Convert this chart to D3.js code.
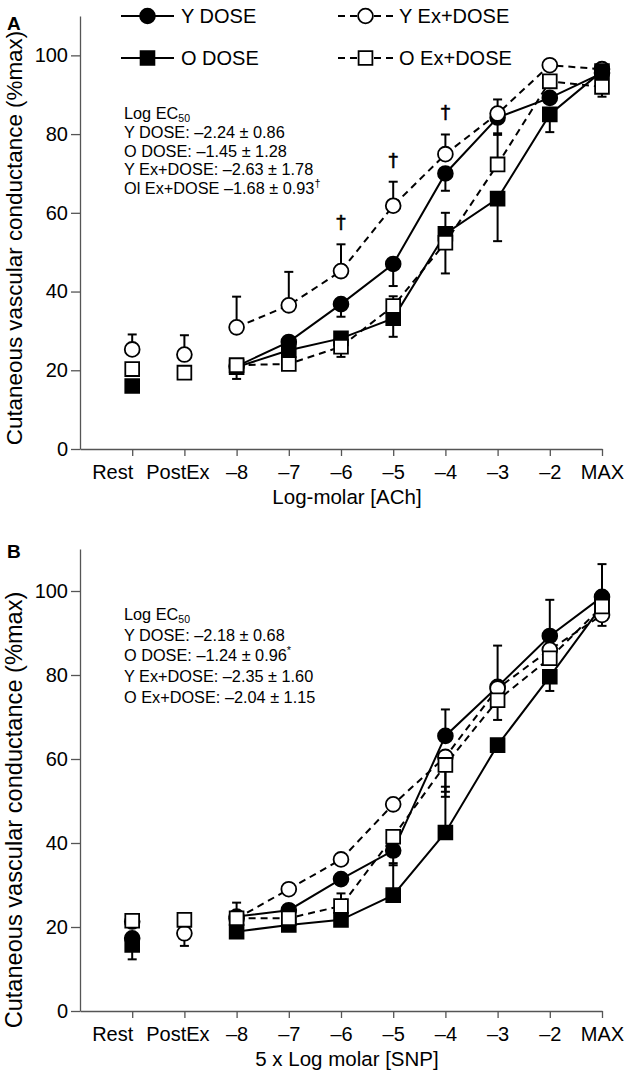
<!DOCTYPE html>
<html>
<head>
<meta charset="utf-8">
<title>Cutaneous vascular conductance – ACh and SNP</title>
<style>
body { margin: 0; background: #fff; }
svg { display: block; font-family: "Liberation Sans", Arial, Helvetica, sans-serif; }
</style>
</head>
<body>
<div id="container"></div>
<script src="https://d3js.org/d3.v7.min.js"></script>
<script>
// categories on the x axis (both panels)
const categories = ["Rest", "PostEx", "–8", "–7", "–6", "–5", "–4", "–3", "–2", "MAX"];
const firstDose = 2;   // curves are joined from –8 onward
const yTicks = [0, 20, 40, 60, 80, 100];
const seriesNames = ["Y DOSE", "Y Ex+DOSE", "O DOSE", "O Ex+DOSE"];

// Panel A: ACh, %max. Error = SEM, sign gives the side the bar is drawn on.
const achYDose    = [null, null, 21.0, 27.2, 36.8, 47.0, 70.0, 84.2, 89.2, 95.5];
const achYDoseErr = [null, null, null, null, -3.2, -5.6, -4.4, -4.0, null, null];
const achYEx      = [25.3, 24.0, 30.9, 36.5, 45.2, 61.8, 74.9, 85.2, 97.5, 96.5];
const achYExErr   = [3.8, 4.9, 7.8, 8.5, 6.8, 6.1, 5.0, 3.6, null, null];
const achODose    = [16.0, null, 20.8, 25.1, 28.1, 33.2, 54.7, 63.6, 85.0, 96.0];
const achODoseErr = [null, null, -3.0, null, null, -4.7, 5.3, -10.8, -4.5, null];
const achOEx      = [20.3, 19.4, 21.3, 21.6, 26.0, 36.3, 52.4, 72.3, 93.4, 92.0];
const achOExErr   = [null, null, null, null, -2.6, 2.5, -7.8, 7.5, null, -2.5];
const achDaggers  = ["–6", "–5", "–4"];   // Y Ex+DOSE vs O Ex+DOSE

// Panel B: SNP, %max
const snpYDose    = [17.3, null, 22.5, 24.0, 31.4, 38.2, 65.5, 77.2, 89.3, 98.6];
const snpYDoseErr = [null, null, 3.3, null, null, -3.5, 6.3, 9.8, 8.6, 7.8];
const snpYEx      = [21.3, 18.5, 22.0, 29.0, 36.1, 49.2, 60.5, 76.8, 86.0, 94.3];
const snpYExErr   = [null, -3.0, null, null, null, null, -8.3, null, null, -2.6];
const snpODose    = [15.7, null, 18.9, 20.5, 21.7, 27.6, 42.5, 63.3, 79.6, 96.5];
const snpODoseErr = [-3.4, null, null, null, null, 7.6, 10.9, null, -3.4, null];
const snpOEx      = [21.5, 21.7, 22.1, 22.1, 25.0, 41.5, 58.6, 74.0, 84.0, 96.3];
const snpOExErr   = [null, null, null, null, 3.0, null, -7.6, -4.7, null, null];

// Log EC50 boxes
const achEc50 = ["Y DOSE: –2.24 ± 0.86", "O DOSE: –1.45 ± 1.28", "Y Ex+DOSE: –2.63 ± 1.78", "Ol Ex+DOSE –1.68 ± 0.93"];
const achEc50Marks = ["", "", "", "†"];
const snpEc50 = ["Y DOSE: –2.18 ± 0.68", "O DOSE: –1.24 ± 0.96", "Y Ex+DOSE: –2.35 ± 1.60", "O Ex+DOSE: –2.04 ± 1.15"];
const snpEc50Marks = ["", "*", "", ""];

const width = 631, height = 1081;
const marginLeft = 80, marginRight = 29;

// marker / line look of each group, same order as seriesNames
const styles = [
  {shape: d3.symbolCircle, fill: "#000", dash: null},
  {shape: d3.symbolCircle, fill: "#fff", dash: "7,5"},
  {shape: d3.symbolSquare, fill: "#000", dash: null},
  {shape: d3.symbolSquare, fill: "#fff", dash: "7,5"}
];
const symbolSize = s => s === d3.symbolCircle ? Math.PI * 7.4 * 7.4 : 13.8 * 13.8;

const svg = d3.select("#container").append("svg")
    .attr("width", width)
    .attr("height", height);
svg.append("rect").attr("width", width).attr("height", height).attr("fill", "#fff");

const x = d3.scaleLinear()
    .domain([-1, categories.length - 1])
    .range([marginLeft, width - marginRight]);

function drawMarker(g, style, cx, cy) {
  g.append("path")
    .attr("d", d3.symbol(style.shape, symbolSize(style.shape))())
    .attr("transform", `translate(${cx},${cy})`)
    .attr("fill", style.fill)
    .attr("stroke", "#000")
    .attr("stroke-width", 1.8);
}

function drawPanel(p) {
  const y = d3.scaleLinear().domain([0, 110]).range([p.bottom, p.top]);
  const g = svg.append("g");

  // axes
  const xAxis = g.append("g")
      .attr("transform", `translate(0,${p.bottom})`)
      .call(d3.axisBottom(x)
        .tickValues(d3.range(categories.length))
        .tickFormat(i => categories[i])
        .tickSize(7).tickSizeOuter(0).tickPadding(9));
  const yAxis = g.append("g")
      .attr("transform", `translate(${marginLeft},0)`)
      .call(d3.axisLeft(y).tickValues(yTicks).tickSize(9).tickSizeOuter(0).tickPadding(3));
  [xAxis, yAxis].forEach(a => {
    a.select(".domain").attr("stroke", "#555").attr("stroke-width", 1.3);
    a.selectAll(".tick line").attr("stroke", "#555").attr("stroke-width", 1.3);
    a.selectAll(".tick text").attr("fill", "#000").attr("font-size", 20)
      .attr("font-family", "Liberation Sans, Arial, sans-serif");
  });
  // Rest / PostEx labels sit a little left of their ticks in the original
  xAxis.selectAll(".tick text").attr("dx", (d, i) => i === 0 ? -20 : i === 1 ? -7 : 0);

  g.append("text")
      .attr("x", 347).attr("y", p.bottom + 55)
      .attr("text-anchor", "middle").attr("font-size", 20.5)
      .text(p.xTitle);

  g.append("text")
      .attr("transform", `translate(22,${p.labelMid}) rotate(-90)`)
      .attr("text-anchor", "middle").attr("font-size", p.labelSize)
      .text("Cutaneous vascular conductance (%max)");

  g.append("text")
      .attr("x", 7).attr("y", p.top + p.letterDy)
      .attr("font-size", 19).attr("font-weight", "bold")
      .text(p.letter);

  // EC50 box
  const box = g.append("text").attr("font-size", 16.3);
  box.append("tspan").attr("x", 124).attr("y", p.ec50Top).text("Log EC");
  box.append("tspan").attr("font-size", 10.5).attr("dy", 3).text("50");
  p.ec50.forEach((t, i) => {
    const line = g.append("text").attr("font-size", 16.3)
        .attr("x", 124).attr("y", p.ec50Top + (i + 1) * p.ec50Step);
    line.append("tspan").text(t);
    if (p.ec50Marks[i]) line.append("tspan").attr("font-size", 11).attr("dy", -7).text(p.ec50Marks[i]);
  });

  const rows = p.series.map(s => s.values.map((v, i) => ({i, v, e: s.err[i]})));

  // curves from –8 to MAX
  const line = d3.line()
      .defined(d => d.v != null)
      .x(d => x(d.i))
      .y(d => y(d.v));
  rows.forEach((r, k) => {
    g.append("path")
      .attr("d", line(r.slice(firstDose)))
      .attr("fill", "none")
      .attr("stroke", "#000")
      .attr("stroke-width", 2)
      .attr("stroke-dasharray", styles[k].dash);
  });

  // error bars
  rows.forEach(r => {
    r.filter(d => d.v != null && d.e != null).forEach(d => {
      const y0 = y(d.v), y1 = y(d.v + d.e), cx = x(d.i);
      g.append("line").attr("x1", cx).attr("x2", cx).attr("y1", y0).attr("y2", y1)
        .attr("stroke", "#000").attr("stroke-width", 2);
      g.append("line").attr("x1", cx - 4.5).attr("x2", cx + 4.5).attr("y1", y1).attr("y2", y1)
        .attr("stroke", "#000").attr("stroke-width", 2);
    });
  });

  // markers
  rows.forEach((r, k) => {
    r.filter(d => d.v != null).forEach(d => drawMarker(g, styles[k], x(d.i), y(d.v)));
  });

  // significance daggers above Y Ex+DOSE bars
  (p.daggers || []).forEach(c => {
    const i = categories.indexOf(c);
    const s = p.series[1];
    g.append("text")
      .attr("x", x(i)).attr("y", y(s.values[i] + s.err[i]) - 22)
      .attr("text-anchor", "middle").attr("dominant-baseline", "central")
      .attr("fill", "#000").attr("stroke", "#000").attr("stroke-width", 0.5)
      .attr("font-family", "DejaVu Sans, sans-serif")
      .attr("font-size", 19).text("†");
  });
}

drawPanel({
  letter: "A", top: 16, bottom: 449, letterDy: 14,
  labelMid: 238, labelSize: 22.4,
  xTitle: "Log-molar [ACh]",
  ec50Top: 119, ec50Step: 18.8, ec50: achEc50, ec50Marks: achEc50Marks,
  daggers: achDaggers,
  series: [
    {values: achYDose, err: achYDoseErr},
    {values: achYEx, err: achYExErr},
    {values: achODose, err: achODoseErr},
    {values: achOEx, err: achOExErr}
  ]
});

drawPanel({
  letter: "B", top: 549, bottom: 1011, letterDy: 9,
  labelMid: 810, labelSize: 23.6,
  xTitle: "5 x Log molar [SNP]",
  ec50Top: 620, ec50Step: 20.7, ec50: snpEc50, ec50Marks: snpEc50Marks,
  series: [
    {values: snpYDose, err: snpYDoseErr},
    {values: snpYEx, err: snpYExErr},
    {values: snpODose, err: snpODoseErr},
    {values: snpOEx, err: snpOExErr}
  ]
});

// legend (top of panel A)
const legend = svg.append("g");
seriesNames.forEach((name, k) => {
  const col = k % 2, row = Math.floor(k / 2);
  const x0 = col === 0 ? 121 : 338, x1 = col === 0 ? 174 : 393;
  const cy = row === 0 ? 16 : 58;
  legend.append("line")
    .attr("x1", x0).attr("x2", x1).attr("y1", cy).attr("y2", cy)
    .attr("stroke", "#000").attr("stroke-width", 2)
    .attr("stroke-dasharray", styles[k].dash);
  drawMarker(legend, styles[k], (x0 + x1) / 2, cy);
  legend.append("text")
    .attr("x", x1 + (col === 0 ? 7 : 6)).attr("y", cy + 7.3)
    .attr("font-size", 20).text(name);
});
</script>
</body>
</html>
